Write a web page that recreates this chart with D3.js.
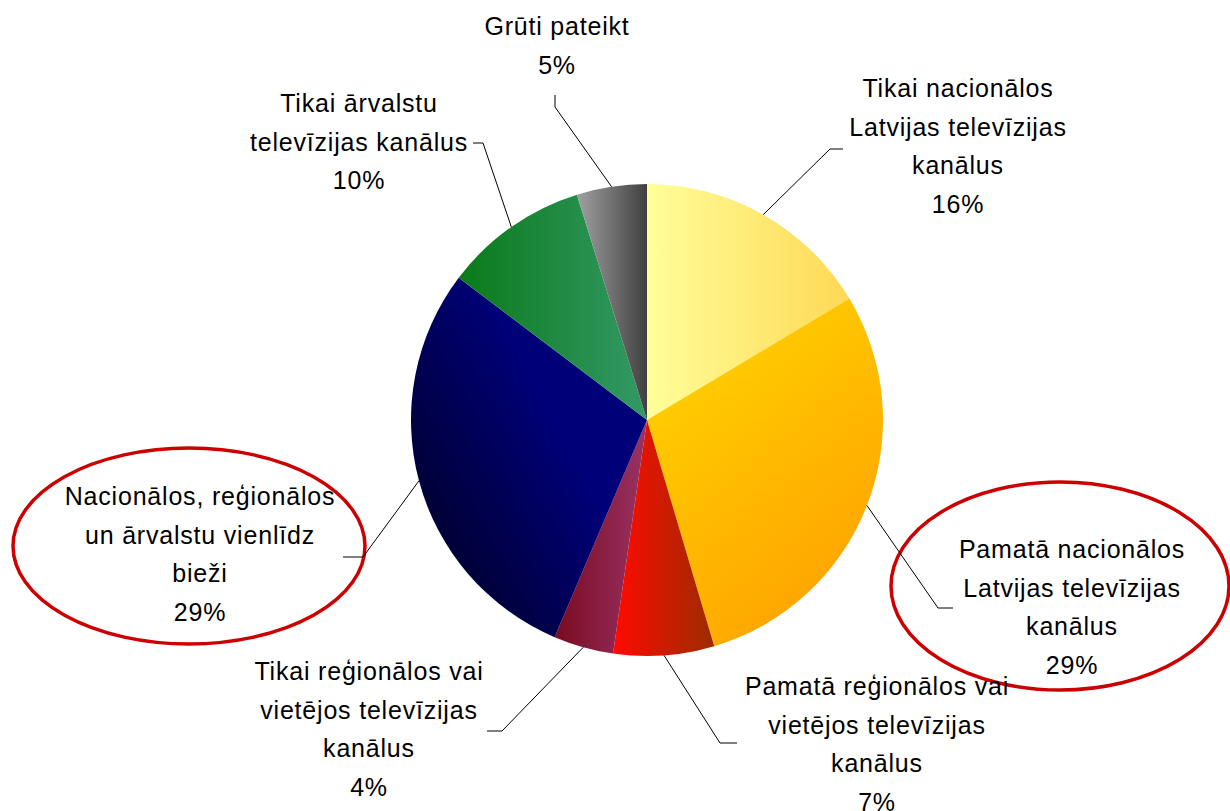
<!DOCTYPE html>
<html>
<head>
    <title>TV kanāli</title>
    <meta charset="utf-8">
    <script src="https://d3js.org/d3.v7.min.js" charset="utf-8"></script>
    <style>
        body { margin: 0; background: #fff; }
        svg text {
            font-family: "Liberation Sans", Arial, sans-serif;
            font-size: 25px;
            letter-spacing: 0.8px;
            fill: #000;
        }
    </style>
</head>
<body>
<svg id="myGraph" width="1230" height="811"></svg>
<script>
    // data area
    var categories = [
        "Tikai nacionālos\nLatvijas televīzijas\nkanālus",
        "Pamatā nacionālos\nLatvijas televīzijas\nkanālus",
        "Pamatā reģionālos vai\nvietējos televīzijas\nkanālus",
        "Tikai reģionālos vai\nvietējos televīzijas\nkanālus",
        "Nacionālos, reģionālos\nun ārvalstu vienlīdz\nbieži",
        "Tikai ārvalstu\ntelevīzijas kanālus",
        "Grūti pateikt"
    ];
    var values = [16.4, 29.0, 6.9, 4.1, 28.9, 9.9, 4.8];
    var percentLabels = ["16%", "29%", "7%", "4%", "29%", "10%", "5%"];

    // gradient colours per slice
    var colors = [
        ["#ffff99", "#ffd855"],
        ["#ffcc00", "#ffa200"],
        ["#ff0a00", "#9c2c00"],
        ["#7a0a20", "#993366"],
        ["#000030", "#000078"],
        ["#0a7a1a", "#339966"],
        ["#a0a0a0", "#404040"]
    ];

    // layout of labels: center x, first baseline, leader elbow and end
    var labelPos = [
        { x: 958, y: 97, elbow: [830, 149], end: [843, 149] },
        { x: 1072, y: 558, elbow: [938, 608], end: [953, 608] },
        { x: 877, y: 695, elbow: [720, 743], end: [737, 743] },
        { x: 369, y: 680, elbow: [502, 731], end: [487, 731] },
        { x: 200, y: 505, elbow: [363, 557], end: [343, 557] },
        { x: 359, y: 112, elbow: [483, 143], end: [473, 143] },
        { x: 557, y: 35, elbow: [555, 107], end: [555, 95] }
    ];

    var cx = 647, cy = 420, r = 236;
    var lineH = 38.5;

    var svg = d3.select("#myGraph");

    // gradients (direction per slice)
    var dirs = [
        [0, 0, 1, 0],
        [0.3, 0.15, 0.75, 0.95],
        [0, 0, 1, 0],
        [0, 0, 1, 0],
        [0.15, 0.85, 0.65, 0.45],
        [0, 0, 1, 0],
        [0, 0, 1, 0]
    ];
    var defs = svg.append("defs");
    colors.forEach(function (c, i) {
        var g = defs.append("linearGradient").attr("id", "grad" + i)
            .attr("x1", dirs[i][0]).attr("y1", dirs[i][1])
            .attr("x2", dirs[i][2]).attr("y2", dirs[i][3]);
        g.append("stop").attr("offset", "0%").attr("stop-color", c[0]);
        g.append("stop").attr("offset", "100%").attr("stop-color", c[1]);
    });

    var pie = d3.pie().sort(null).value(function (d) { return d; });
    var arcs = pie(values);
    var arc = d3.arc().innerRadius(0).outerRadius(r);

    var g = svg.append("g").attr("transform", "translate(" + cx + "," + cy + ")");
    g.selectAll("path")
        .data(arcs)
        .enter()
        .append("path")
        .attr("d", arc)
        .attr("fill", function (d, i) { return "url(#grad" + i + ")"; });

    // highlight ellipses
    svg.append("ellipse")
        .attr("cx", 189).attr("cy", 546).attr("rx", 176).attr("ry", 98)
        .attr("fill", "none").attr("stroke", "#cc0000").attr("stroke-width", 3.5);
    svg.append("ellipse")
        .attr("cx", 1060).attr("cy", 586).attr("rx", 169).attr("ry", 104)
        .attr("fill", "none").attr("stroke", "#cc0000").attr("stroke-width", 3.5);

    // leader lines
    svg.selectAll("polyline.leader")
        .data(arcs)
        .enter()
        .append("polyline")
        .attr("class", "leader")
        .attr("fill", "none")
        .attr("stroke", "#000")
        .attr("stroke-width", 1)
        .attr("points", function (d, i) {
            var a = (d.startAngle + d.endAngle) / 2;
            var sx = cx + r * Math.sin(a), sy = cy - r * Math.cos(a);
            var p = labelPos[i];
            return [[sx, sy], p.elbow, p.end].map(function (q) { return q.join(","); }).join(" ");
        });

    // labels
    var labels = svg.selectAll("text.lbl")
        .data(arcs)
        .enter()
        .append("text")
        .attr("class", "lbl")
        .attr("text-anchor", "middle");

    labels.each(function (d, i) {
        var lines = categories[i].split("\n").concat([percentLabels[i]]);
        var t = d3.select(this);
        lines.forEach(function (s, k) {
            t.append("tspan")
                .attr("x", labelPos[i].x)
                .attr("y", labelPos[i].y + k * lineH)
                .text(s);
        });
    });
</script>
</body>
</html>
